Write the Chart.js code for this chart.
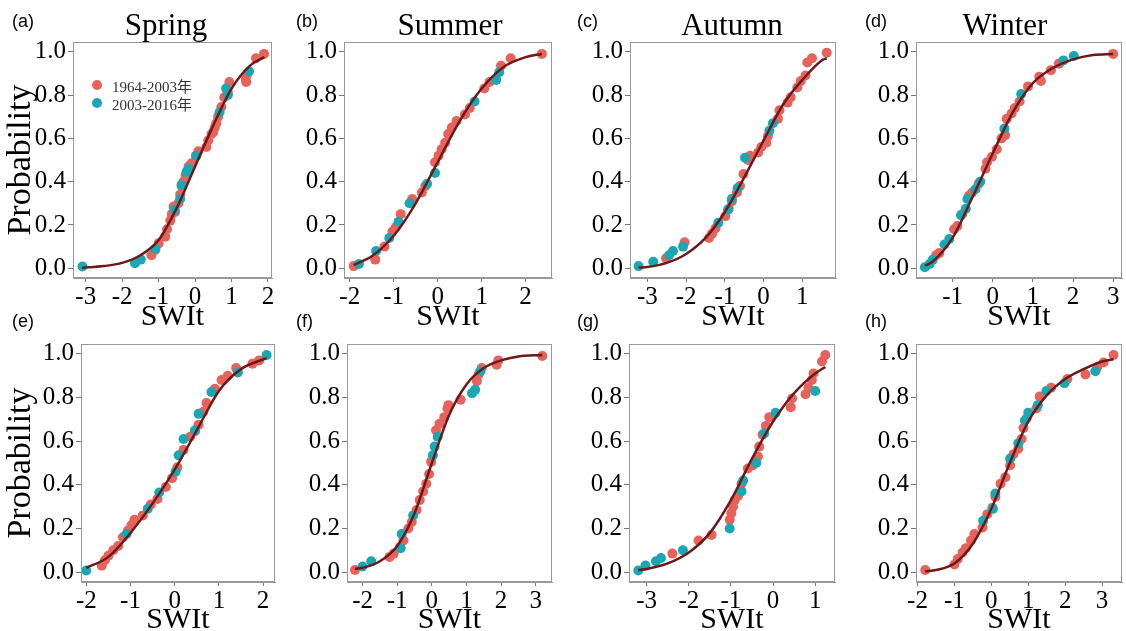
<!DOCTYPE html>
<html>
<head>
<meta charset="utf-8">
<script src="https://cdn.jsdelivr.net/npm/chart.js@4.4.1/dist/chart.umd.min.js"></script>
<style>
  body { margin: 0; width: 1126px; height: 631px; overflow: hidden; background: #fff; position: relative; }
  canvas { position: absolute; }
  .tag { position: absolute; font-family: "Liberation Sans", Arial, sans-serif; font-size: 18px; line-height: 1; color: #000; }
  .season { position: absolute; font-family: "Liberation Serif", "Times New Roman", serif; font-size: 31px; line-height: 1; color: #000; transform: translateX(-50%); white-space: nowrap; }
  .legend { position: absolute; left: 92px; top: 76px; font-family: "Liberation Serif", "Noto Sans CJK SC", serif; font-size: 15px; color: #333; }
  .legend div { display: flex; align-items: center; height: 18px; }
  .legend span.dot { display: inline-block; width: 10px; height: 10px; border-radius: 50%; margin-right: 10px; }
</style>
</head>
<body>
<script>
// colours
const RED = "#E8625C";
const TEAL = "#19A8B3";
const FIT = "#6B1919";

// series: [SWIt, probability]
// (a) Spring, top row
const a1964 = [[-1.2,0.06],[-1.09,0.085],[-1.0,0.115],[-0.82,0.146],[-0.77,0.18],[-0.68,0.22],[-0.64,0.25],[-0.59,0.285],[-0.55,0.26],[-0.46,0.30],[-0.41,0.34],[-0.37,0.38],[-0.32,0.40],[-0.26,0.43],[-0.18,0.47],[-0.1,0.485],[0.02,0.52],[0.09,0.54],[0.31,0.56],[0.36,0.59],[0.45,0.62],[0.5,0.63],[0.54,0.65],[0.58,0.67],[0.63,0.70],[0.72,0.745],[0.8,0.79],[0.9,0.81],[0.94,0.86],[1.39,0.875],[1.4,0.86],[1.44,0.90],[1.67,0.97],[1.89,0.99]];
const a2003 = [[-3.09,0.008],[-1.65,0.023],[-1.49,0.04],[-1.09,0.09],[-0.56,0.27],[-0.41,0.32],[-0.37,0.385],[-0.23,0.445],[-0.18,0.46],[0.04,0.52],[0.67,0.72],[0.85,0.83],[0.9,0.80],[1.48,0.91]];
const aFit = [[-3.1,0.002],[-2.5,0.01],[-2,0.025],[-1.5,0.06],[-1,0.13],[-0.5,0.28],[0,0.47],[0.5,0.66],[1,0.83],[1.5,0.935],[1.9,0.975]];

// (b) Summer
const b1964 = [[-1.91,0.01],[-1.42,0.04],[-1.21,0.10],[-1.03,0.17],[-0.95,0.19],[-0.84,0.25],[-0.58,0.32],[-0.36,0.35],[-0.28,0.38],[-0.06,0.49],[0.02,0.52],[0.09,0.55],[0.17,0.58],[0.24,0.62],[0.32,0.65],[0.43,0.68],[0.62,0.71],[0.73,0.74],[1.06,0.83],[1.18,0.86],[1.44,0.935],[1.66,0.97],[2.37,0.99]];
const b2003 = [[-1.79,0.02],[-1.4,0.08],[-1.1,0.14],[-0.89,0.215],[-0.64,0.30],[-0.24,0.39],[-0.06,0.44],[0.84,0.77],[1.33,0.87],[1.4,0.905]];
const bFit = [[-1.91,0.015],[-1.5,0.055],[-1,0.15],[-0.5,0.30],[0,0.49],[0.5,0.68],[1,0.83],[1.5,0.93],[2,0.975],[2.37,0.99]];

// (c) Autumn
const c1964 = [[-2.52,0.046],[-2.04,0.12],[-1.41,0.14],[-1.33,0.16],[-1.24,0.185],[-0.99,0.24],[-0.9,0.275],[-0.82,0.31],[-0.69,0.35],[-0.61,0.38],[-0.52,0.435],[-0.4,0.50],[-0.35,0.52],[-0.14,0.535],[-0.06,0.56],[0.07,0.58],[0.11,0.61],[0.37,0.69],[0.41,0.73],[0.62,0.765],[0.7,0.79],[0.87,0.835],[0.96,0.865],[1.08,0.89],[1.13,0.95],[1.25,0.97],[1.63,0.995]];
const c2003 = [[-3.23,0.01],[-2.85,0.03],[-2.44,0.06],[-2.34,0.08],[-2.08,0.10],[-1.17,0.21],[-0.92,0.27],[-0.82,0.32],[-0.67,0.37],[-0.48,0.51],[0.15,0.635],[0.24,0.67]];
const cFit = [[-3.23,0.003],[-3,0.006],[-2.5,0.025],[-2,0.066],[-1.5,0.14],[-1,0.26],[-0.5,0.42],[0,0.59],[0.5,0.755],[1,0.87],[1.5,0.96],[1.63,0.97]];

// (d) Winter
const d1964 = [[-1.41,0.06],[-1.33,0.07],[-0.96,0.18],[-0.88,0.195],[-0.76,0.25],[-0.59,0.335],[-0.51,0.35],[-0.35,0.39],[-0.18,0.46],[-0.14,0.49],[-0.02,0.515],[0.1,0.55],[0.22,0.60],[0.31,0.615],[0.35,0.69],[0.47,0.715],[0.55,0.74],[0.67,0.77],[0.88,0.84],[1.16,0.885],[1.2,0.865],[1.45,0.915],[1.65,0.945],[3.0,0.99]];
const d2003 = [[-1.69,0.005],[-1.57,0.02],[-1.49,0.04],[-1.2,0.11],[-1.08,0.135],[-0.79,0.245],[-0.67,0.275],[-0.63,0.32],[-0.43,0.365],[-0.31,0.40],[0.29,0.645],[0.71,0.805],[1.76,0.96],[2.02,0.98]];
const dFit = [[-1.69,0.012],[-1.5,0.03],[-1,0.14],[-0.5,0.33],[0,0.53],[0.5,0.72],[1,0.855],[1.5,0.925],[2,0.965],[2.5,0.985],[3.0,0.99]];

// (e) Spring, bottom row
const e1964 = [[-1.65,0.03],[-1.58,0.055],[-1.5,0.075],[-1.39,0.10],[-1.28,0.12],[-1.17,0.16],[-1.06,0.19],[-0.98,0.215],[-0.91,0.24],[-0.72,0.26],[-0.54,0.31],[-0.39,0.335],[-0.2,0.39],[-0.06,0.43],[0.06,0.48],[0.2,0.56],[0.35,0.62],[0.46,0.645],[0.54,0.675],[0.65,0.735],[0.72,0.775],[0.91,0.84],[1.06,0.88],[1.2,0.90],[1.39,0.935],[1.76,0.955],[1.91,0.97]];
const e2003 = [[-2.0,0.008],[-1.09,0.175],[-0.61,0.29],[-0.35,0.365],[0.02,0.46],[0.09,0.535],[0.2,0.61],[0.46,0.65],[0.54,0.725],[0.83,0.825],[1.43,0.915],[2.08,0.995]];
const eFit = [[-2,0.02],[-1.5,0.07],[-1,0.18],[-0.5,0.315],[0,0.47],[0.5,0.65],[1,0.83],[1.5,0.93],[2.08,0.98]];

// (f) Summer
const f1964 = [[-2.22,0.01],[-1.22,0.07],[-1.1,0.085],[-0.92,0.115],[-0.82,0.145],[-0.68,0.20],[-0.58,0.23],[-0.44,0.285],[-0.35,0.33],[-0.25,0.37],[-0.16,0.405],[-0.08,0.45],[-0.02,0.505],[0.12,0.65],[0.22,0.68],[0.36,0.71],[0.45,0.75],[0.48,0.765],[0.83,0.79],[1.3,0.875],[1.35,0.905],[1.44,0.935],[1.87,0.95],[1.92,0.97],[3.19,0.99]];
const f2003 = [[-2.0,0.026],[-1.75,0.05],[-0.9,0.11],[-0.87,0.175],[-0.54,0.26],[0.03,0.535],[0.08,0.575],[0.17,0.62],[1.16,0.82],[1.25,0.835],[1.4,0.92]];
const fFit = [[-2.22,0.015],[-2,0.02],[-1.5,0.05],[-1,0.12],[-0.5,0.27],[0,0.50],[0.5,0.72],[1,0.86],[1.5,0.935],[2,0.97],[2.5,0.988],[3.19,0.995]];

// (g) Autumn
const g1964 = [[-2.39,0.085],[-1.77,0.145],[-1.46,0.17],[-1.03,0.24],[-0.99,0.27],[-0.95,0.30],[-0.91,0.33],[-0.83,0.35],[-0.75,0.405],[-0.6,0.475],[-0.48,0.49],[-0.36,0.53],[-0.33,0.575],[-0.25,0.63],[-0.17,0.67],[-0.09,0.71],[0.42,0.755],[0.45,0.795],[0.77,0.815],[0.84,0.845],[0.92,0.88],[0.96,0.91],[1.16,0.965],[1.24,0.995]];
const g2003 = [[-3.2,0.008],[-3.03,0.03],[-2.78,0.05],[-2.66,0.065],[-2.14,0.10],[-1.03,0.20],[-0.75,0.37],[-0.71,0.42],[-0.4,0.50],[-0.21,0.635],[0.06,0.73],[1.0,0.83]];
const gFit = [[-3.2,0.01],[-3,0.015],[-2.5,0.04],[-2,0.09],[-1.5,0.18],[-1,0.33],[-0.5,0.52],[0,0.69],[0.5,0.82],[1,0.91],[1.24,0.94]];

// (h) Winter
const h1964 = [[-1.79,0.01],[-1.0,0.035],[-0.91,0.06],[-0.78,0.09],[-0.69,0.11],[-0.55,0.145],[-0.46,0.175],[-0.24,0.205],[-0.11,0.265],[0.03,0.295],[0.11,0.345],[0.25,0.405],[0.38,0.435],[0.51,0.49],[0.6,0.54],[0.73,0.565],[0.82,0.61],[0.87,0.66],[0.96,0.705],[1.22,0.75],[1.31,0.805],[1.62,0.845],[2.06,0.885],[2.55,0.905],[2.87,0.94],[3.04,0.96],[3.31,0.995]];
const h2003 = [[-0.22,0.235],[0.04,0.29],[0.11,0.36],[0.51,0.52],[0.73,0.59],[0.91,0.695],[1.0,0.73],[1.26,0.765],[1.49,0.83],[1.98,0.865],[2.82,0.92]];
const hFit = [[-1.79,0.003],[-1.5,0.01],[-1,0.04],[-0.5,0.13],[0,0.29],[0.5,0.50],[1,0.69],[1.5,0.81],[2,0.885],[2.5,0.93],[3,0.965],[3.31,0.975]];

const SERIF = "'Liberation Serif', 'Times New Roman', serif";
const PAD_T = 20;
const PAD_R = 2;

// plot boxes in page pixels, axis ranges
const panels = [
  { tag: "(a)", season: "Spring", old: a1964, recent: a2003, fit: aFit, l: 73,  r: 275,  t: 42,  b: 278, xmin: -3.35, xmax: 2.11, first: true, legend: true },
  { tag: "(b)", season: "Summer", old: b1964, recent: b2003, fit: bFit, l: 344, r: 555,  t: 42,  b: 278, xmin: -2.13, xmax: 2.6 },
  { tag: "(c)", season: "Autumn", old: c1964, recent: c2003, fit: cFit, l: 630, r: 839,  t: 42,  b: 278, xmin: -3.45, xmax: 1.87 },
  { tag: "(d)", season: "Winter", old: d1964, recent: d2003, fit: dFit, l: 916, r: 1125, t: 42,  b: 278, xmin: -1.91, xmax: 3.22 },
  { tag: "(e)", old: e1964, recent: e2003, fit: eFit, l: 81,  r: 278,  t: 344, b: 582, xmin: -2.12, xmax: 2.27, first: true },
  { tag: "(f)", old: f1964, recent: f2003, fit: fFit, l: 347, r: 555,  t: 344, b: 582, xmin: -2.45, xmax: 3.47 },
  { tag: "(g)", old: g1964, recent: g2003, fit: gFit, l: 629, r: 838,  t: 344, b: 582, xmin: -3.42, xmax: 1.47 },
  { tag: "(h)", old: h1964, recent: h2003, fit: hFit, l: 916, r: 1125, t: 344, b: 582, xmin: -2.04, xmax: 3.54 }
];

const framePlugin = {
  id: "frame",
  afterDraw(chart) {
    const { ctx, chartArea: a } = chart;
    ctx.save();
    ctx.strokeStyle = "#999";
    ctx.lineWidth = 1;
    ctx.strokeRect(a.left + 0.5, a.top + 0.5, a.right - a.left - 1, a.bottom - a.top - 1);
    ctx.restore();
  }
};

const toXY = arr => arr.map(([x, y]) => ({ x, y }));

function makePanel(p, i) {
  const yw = p.first ? p.l : 60;
  const xh = p.t < 100 ? 57 : 56;
  const cv = document.createElement("canvas");
  const w = yw + (p.r - p.l) + PAD_R;
  const h = PAD_T + (p.b - p.t) + xh;
  cv.width = w; cv.height = h;
  cv.style.width = w + "px"; cv.style.height = h + "px";
  cv.style.left = (p.l - yw) + "px";
  cv.style.top = (p.t - PAD_T) + "px";
  document.body.appendChild(cv);

  const tickFont = { family: SERIF, size: 25 };

  new Chart(cv.getContext("2d"), {
    type: "scatter",
    data: {
      datasets: [
        { label: "fit", data: toXY(p.fit), showLine: true, borderColor: FIT, borderWidth: 2.5, pointRadius: 0, cubicInterpolationMode: "monotone", fill: false },
        { label: "2003-2016年", data: toXY(p.recent), backgroundColor: TEAL, borderWidth: 0, pointRadius: 5 },
        { label: "1964-2003年", data: toXY(p.old), backgroundColor: RED, borderWidth: 0, pointRadius: 5 }
      ]
    },
    options: {
      responsive: false,
      animation: false,
      devicePixelRatio: 1,
      layout: { padding: { top: PAD_T, right: PAD_R, left: 0, bottom: 0 } },
      plugins: { legend: { display: false }, tooltip: { enabled: false } },
      scales: {
        x: {
          type: "linear",
          min: p.xmin, max: p.xmax,
          afterFit: s => { s.height = xh; },
          ticks: { stepSize: 1, includeBounds: false, autoSkip: false, maxRotation: 0, padding: 0, color: "#000", font: tickFont, callback: v => String(v) },
          grid: { drawOnChartArea: false, tickLength: 4, color: "#777" },
          border: { color: "#999" },
          title: { display: true, text: "SWIt", color: "#000", font: { family: SERIF, size: 30 }, padding: 0 }
        },
        y: {
          min: -0.045, max: 1.045,
          afterFit: s => { s.width = yw; },
          ticks: { stepSize: 0.2, includeBounds: false, padding: 2, color: "#000", font: tickFont, callback: v => v.toFixed(1) },
          grid: { drawOnChartArea: false, tickLength: 5, color: "#777" },
          border: { color: "#999" },
          title: { display: !!p.first, text: "Probability", color: "#000", font: { family: SERIF, size: 34 }, padding: { top: 1, bottom: 0 } }
        }
      }
    },
    plugins: [framePlugin]
  });

  const tag = document.createElement("div");
  tag.className = "tag";
  tag.textContent = p.tag;
  const col = i % 4;
  tag.style.left = [12, 296, 577, 865][col] + "px";
  tag.style.top = (p.t < 100 ? 12 : 312) + "px";
  document.body.appendChild(tag);

  if (p.season) {
    const s = document.createElement("div");
    s.className = "season";
    s.textContent = p.season;
    s.style.left = [166, 450, 732, 1005][col] + "px";
    s.style.top = "9px";
    document.body.appendChild(s);
  }

  if (p.legend) {
    const lg = document.createElement("div");
    lg.className = "legend";
    lg.innerHTML =
      '<div><span class="dot" style="background:' + RED + '"></span>1964-2003年</div>' +
      '<div><span class="dot" style="background:' + TEAL + '"></span>2003-2016年</div>';
    document.body.appendChild(lg);
  }
}

panels.forEach(makePanel);
</script>
</body>
</html>
